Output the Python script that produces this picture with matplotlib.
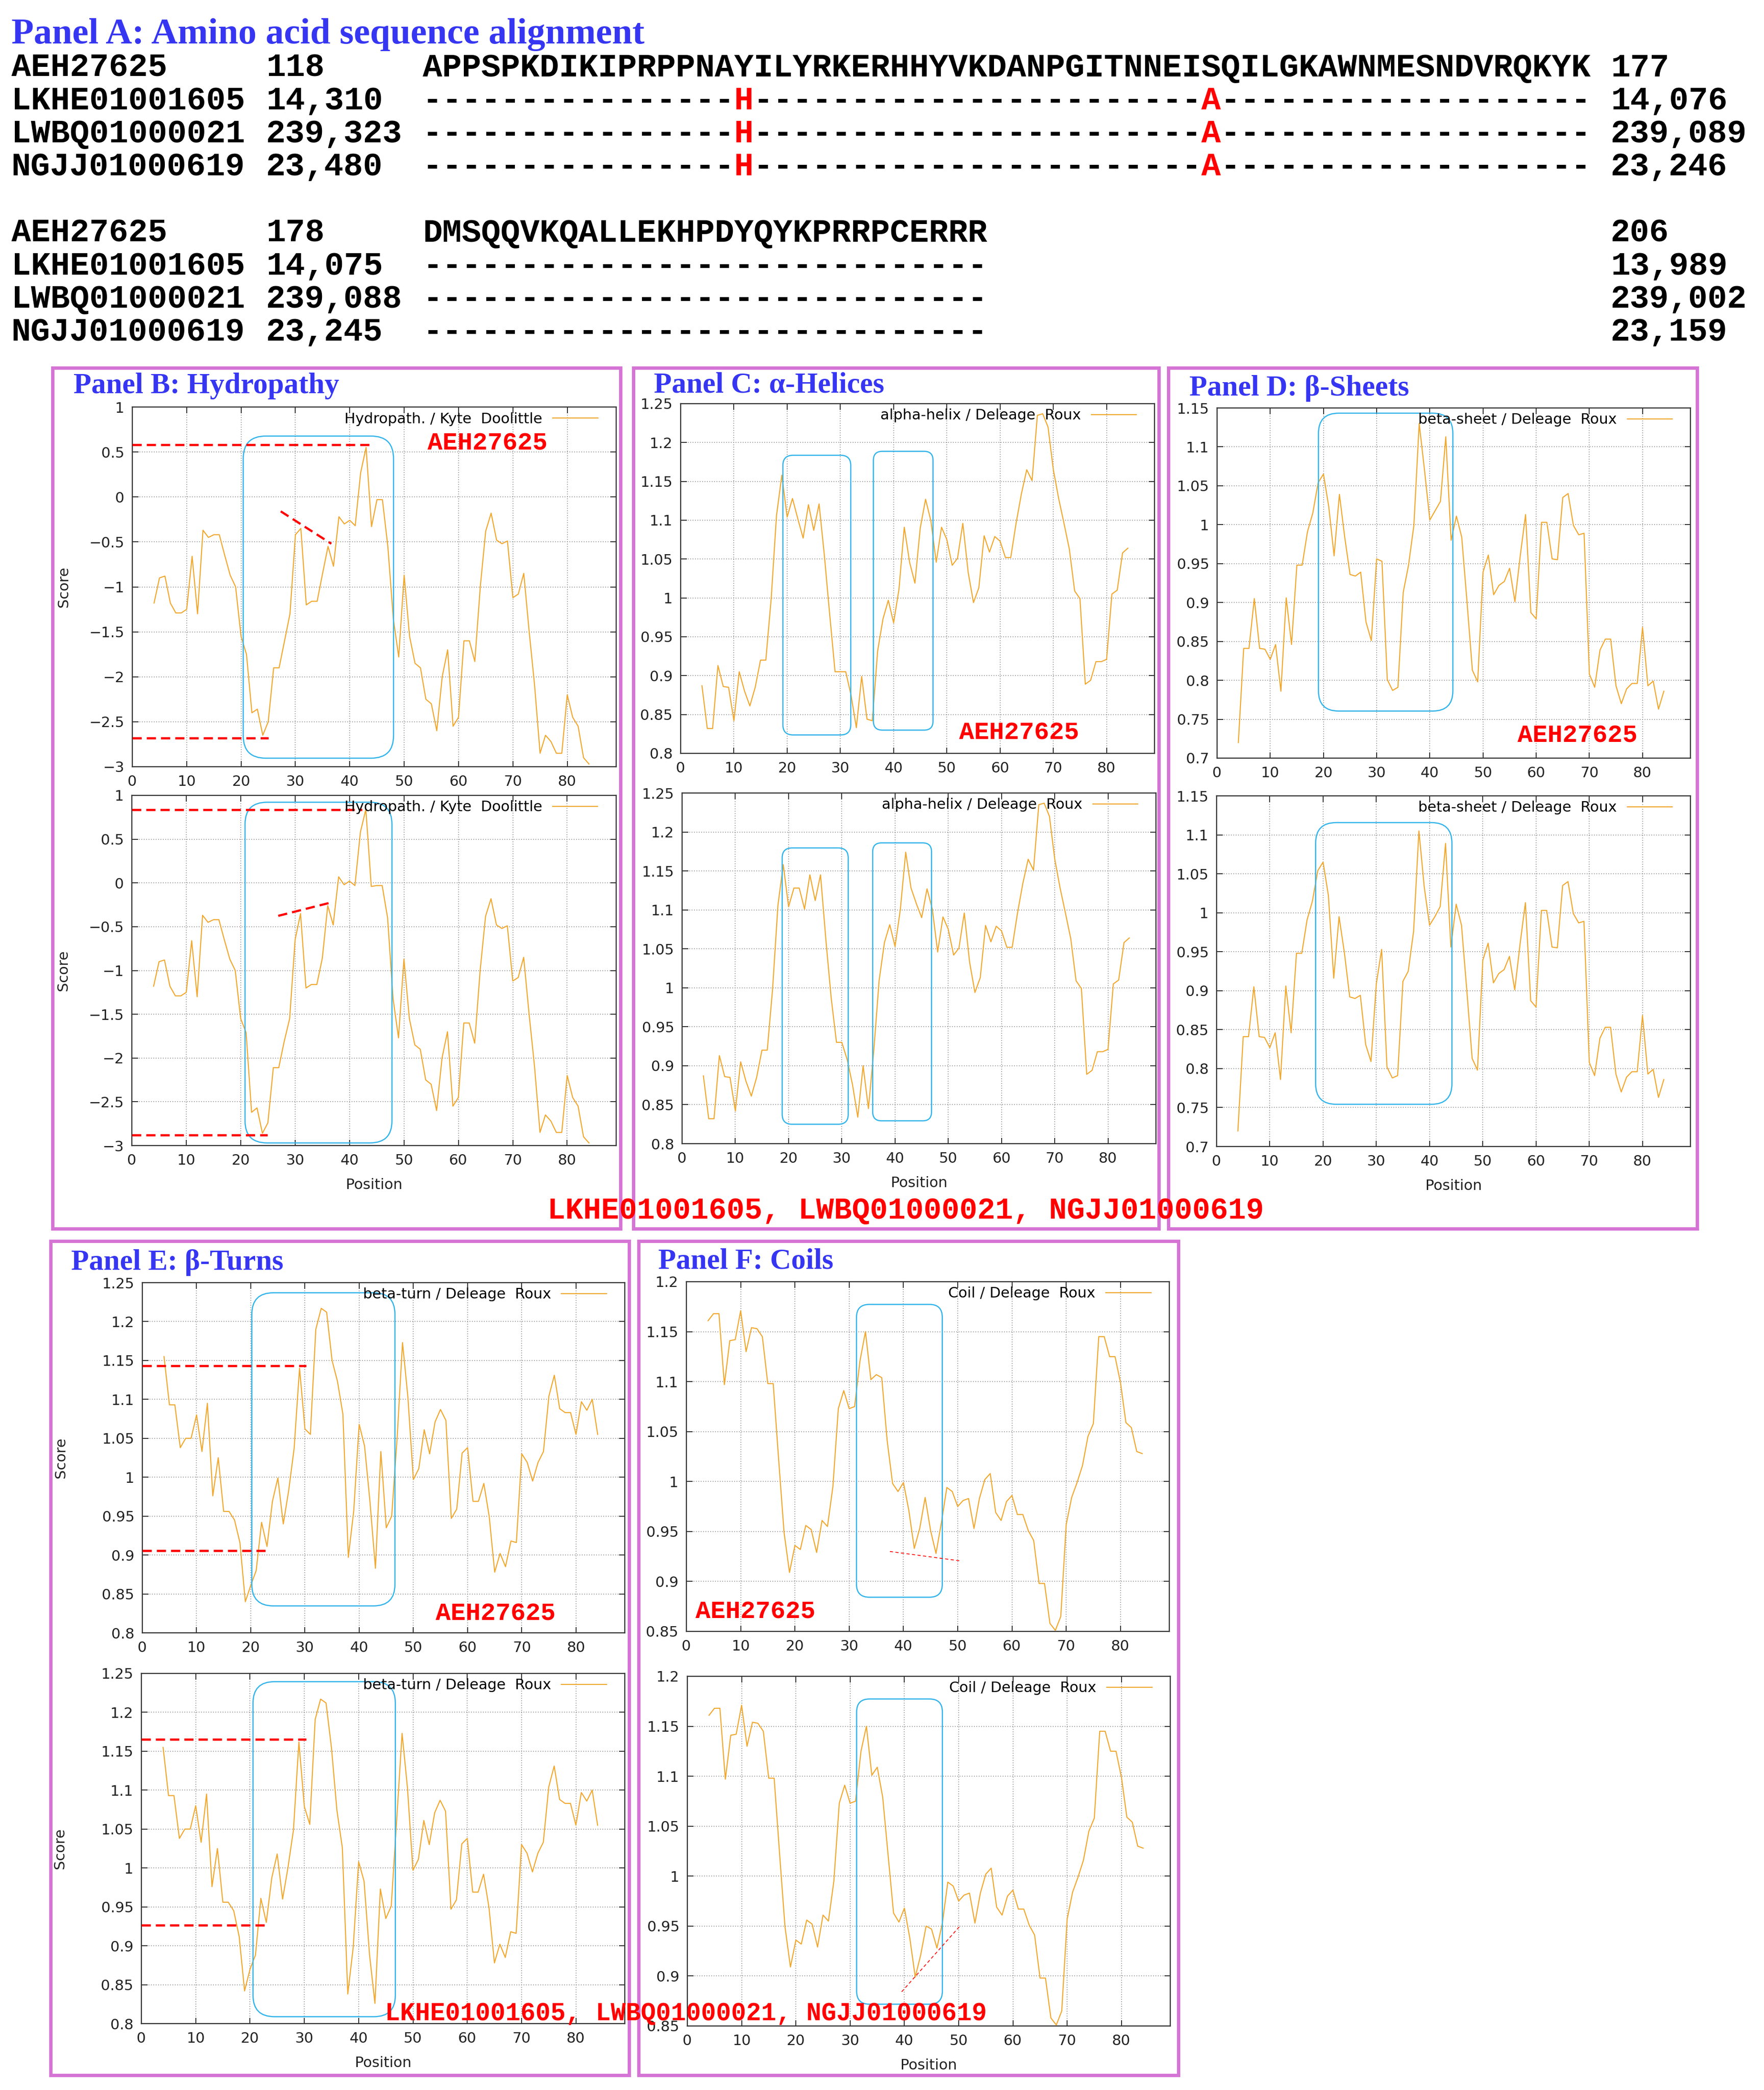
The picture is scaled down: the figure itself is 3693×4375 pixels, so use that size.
import matplotlib
matplotlib.use("Agg")
import matplotlib.pyplot as plt
from matplotlib.patches import FancyBboxPatch, Rectangle
from matplotlib.ticker import FuncFormatter

# --- размер картинки в пикселях (dpi = 100) ---
W, H = 3693, 4375

# ---------------- данные: выравнивание (Panel A) ----------------
seq_names = ["AEH27625", "LKHE01001605", "LWBQ01000021", "NGJJ01000619"]
block1_start = ["118", "14,310", "239,323", "23,480"]
block1_end = ["177", "14,076", "239,089", "23,246"]
block2_start = ["178", "14,075", "239,088", "23,245"]
block2_end = ["206", "13,989", "239,002", "23,159"]
block1_seq = "APPSPKDIKIPRPPNAYILYRKERHHYVKDANPGITNNEISQILGKAWNMESNDVRQKYK"
block2_seq = "DMSQQVKQALLEKHPDYQYKPRRPCERRR"
block1_subst = {16: "H", 40: "A"}
block2_subst = {}

# ---------------- данные: профили (позиции 4..84) ----------------
positions = list(range(4, 85))

hydro_ref = [-1.18, -0.90, -0.88, -1.18, -1.29, -1.29, -1.25, -0.66, -1.30, -0.37,
             -0.45, -0.42, -0.42, -0.65, -0.87, -1.00, -1.55, -1.75, -2.40, -2.36,
             -2.65, -2.50, -1.90, -1.90, -1.60, -1.30, -0.42, -0.35, -1.20, -1.16,
             -1.16, -0.85, -0.55, -0.77, -0.22, -0.30, -0.26, -0.32, 0.27, 0.55,
             -0.33, -0.03, -0.03, -0.55, -1.35, -1.78, -0.87, -1.55, -1.85, -1.90,
             -2.25, -2.30, -2.60, -2.00, -1.70, -2.55, -2.45, -1.60, -1.60, -1.83,
             -1.00, -0.38, -0.18, -0.48, -0.52, -0.49, -1.12, -1.08, -0.85, -1.50,
             -2.10, -2.85, -2.65, -2.72, -2.85, -2.85, -2.20, -2.45, -2.55, -2.90,
             -2.97]
hydro_var = [-1.18, -0.90, -0.88, -1.18, -1.29, -1.29, -1.25, -0.66, -1.30, -0.37,
             -0.45, -0.42, -0.42, -0.65, -0.87, -1.00, -1.55, -1.71, -2.62, -2.57,
             -2.86, -2.74, -2.11, -2.11, -1.81, -1.55, -0.65, -0.35, -1.20, -1.16,
             -1.16, -0.86, -0.26, -0.48, 0.07, -0.02, 0.02, -0.03, 0.58, 0.84,
             -0.04, -0.03, -0.03, -0.40, -1.32, -1.77, -0.87, -1.55, -1.85, -1.90,
             -2.25, -2.30, -2.60, -2.00, -1.70, -2.55, -2.45, -1.60, -1.60, -1.83,
             -1.00, -0.38, -0.18, -0.48, -0.52, -0.49, -1.12, -1.08, -0.85, -1.50,
             -2.10, -2.85, -2.65, -2.72, -2.85, -2.85, -2.20, -2.45, -2.55, -2.90,
             -2.97]

alpha_ref = [0.887, 0.832, 0.832, 0.913, 0.886, 0.885, 0.842, 0.905, 0.880, 0.861,
             0.885, 0.920, 0.920, 0.999, 1.106, 1.158, 1.104, 1.128, 1.102, 1.077,
             1.120, 1.087, 1.121, 1.054, 0.978, 0.905, 0.905, 0.905, 0.875, 0.833,
             0.899, 0.844, 0.842, 0.932, 0.973, 0.997, 0.968, 1.011, 1.091, 1.046,
             1.019, 1.090, 1.127, 1.099, 1.046, 1.091, 1.075, 1.042, 1.051, 1.096,
             1.033, 0.994, 1.013, 1.080, 1.059, 1.079, 1.073, 1.052, 1.052, 1.096,
             1.134, 1.165, 1.151, 1.235, 1.237, 1.220, 1.165, 1.128, 1.096, 1.063,
             1.009, 0.999, 0.889, 0.894, 0.918, 0.918, 0.921, 1.005, 1.010, 1.058,
             1.064]
alpha_var = [0.887, 0.832, 0.832, 0.913, 0.886, 0.885, 0.842, 0.905, 0.880, 0.861,
             0.885, 0.920, 0.920, 0.999, 1.106, 1.158, 1.104, 1.128, 1.128, 1.101,
             1.145, 1.112, 1.145, 1.062, 0.987, 0.930, 0.930, 0.908, 0.876, 0.834,
             0.900, 0.845, 0.919, 1.009, 1.058, 1.081, 1.053, 1.101, 1.174, 1.128,
             1.108, 1.090, 1.127, 1.101, 1.046, 1.091, 1.075, 1.042, 1.051, 1.096,
             1.033, 0.994, 1.013, 1.080, 1.059, 1.079, 1.073, 1.052, 1.052, 1.096,
             1.134, 1.165, 1.151, 1.235, 1.237, 1.220, 1.165, 1.128, 1.096, 1.063,
             1.009, 0.999, 0.889, 0.894, 0.918, 0.918, 0.921, 1.005, 1.010, 1.058,
             1.064]

sheet_ref = [0.720, 0.841, 0.841, 0.905, 0.841, 0.840, 0.827, 0.846, 0.786, 0.906,
             0.846, 0.948, 0.948, 0.991, 1.015, 1.054, 1.065, 1.023, 0.960, 1.039,
             0.984, 0.936, 0.934, 0.939, 0.875, 0.851, 0.956, 0.953, 0.801, 0.787,
             0.791, 0.913, 0.948, 0.999, 1.130, 1.070, 1.006, 1.018, 1.030, 1.113,
             0.980, 1.011, 0.984, 0.900, 0.813, 0.798, 0.939, 0.961, 0.910, 0.922,
             0.927, 0.944, 0.901, 0.960, 1.013, 0.887, 0.879, 1.003, 1.003, 0.956,
             0.955, 1.035, 1.040, 0.999, 0.987, 0.989, 0.808, 0.791, 0.839, 0.853,
             0.853, 0.793, 0.770, 0.789, 0.796, 0.796, 0.868, 0.793, 0.799, 0.763,
             0.786]
sheet_var = [0.720, 0.841, 0.841, 0.905, 0.841, 0.840, 0.827, 0.846, 0.786, 0.906,
             0.846, 0.948, 0.948, 0.991, 1.015, 1.054, 1.065, 1.022, 0.916, 0.995,
             0.949, 0.892, 0.890, 0.894, 0.831, 0.809, 0.909, 0.953, 0.802, 0.788,
             0.791, 0.912, 0.925, 0.976, 1.105, 1.033, 0.984, 0.995, 1.008, 1.089,
             0.956, 1.011, 0.984, 0.900, 0.813, 0.798, 0.939, 0.961, 0.910, 0.922,
             0.927, 0.944, 0.901, 0.960, 1.013, 0.887, 0.879, 1.003, 1.003, 0.956,
             0.955, 1.035, 1.040, 0.999, 0.987, 0.989, 0.808, 0.791, 0.839, 0.853,
             0.853, 0.793, 0.770, 0.789, 0.796, 0.796, 0.868, 0.793, 0.799, 0.763,
             0.786]

turn_ref = [1.155, 1.093, 1.093, 1.038, 1.050, 1.050, 1.080, 1.033, 1.095, 0.976,
            1.025, 0.956, 0.956, 0.945, 0.916, 0.840, 0.861, 0.880, 0.942, 0.911,
            0.969, 0.999, 0.940, 0.983, 1.037, 1.140, 1.062, 1.055, 1.190, 1.217,
            1.212, 1.150, 1.123, 1.081, 0.897, 0.957, 1.068, 1.040, 0.968, 0.883,
            1.033, 0.935, 0.950, 1.050, 1.173, 1.102, 0.997, 1.011, 1.061, 1.030,
            1.071, 1.087, 1.073, 0.947, 0.959, 1.031, 1.038, 0.969, 0.969, 0.992,
            0.949, 0.878, 0.902, 0.885, 0.918, 0.916, 1.030, 1.019, 0.995, 1.019,
            1.033, 1.104, 1.131, 1.088, 1.083, 1.083, 1.055, 1.097, 1.086, 1.100,
            1.055]
turn_var = [1.155, 1.093, 1.093, 1.038, 1.050, 1.050, 1.080, 1.033, 1.095, 0.976,
            1.025, 0.956, 0.956, 0.945, 0.912, 0.842, 0.870, 0.888, 0.961, 0.930,
            0.987, 1.018, 0.960, 1.001, 1.049, 1.162, 1.079, 1.056, 1.191, 1.217,
            1.212, 1.154, 1.074, 1.026, 0.838, 0.898, 1.008, 0.983, 0.889, 0.826,
            0.973, 0.935, 0.951, 1.061, 1.173, 1.102, 0.997, 1.011, 1.061, 1.030,
            1.071, 1.087, 1.073, 0.947, 0.959, 1.031, 1.038, 0.969, 0.969, 0.992,
            0.949, 0.878, 0.902, 0.885, 0.918, 0.916, 1.030, 1.019, 0.995, 1.019,
            1.033, 1.104, 1.131, 1.088, 1.083, 1.083, 1.055, 1.097, 1.086, 1.100,
            1.055]

coil_ref = [1.161, 1.168, 1.168, 1.097, 1.141, 1.142, 1.171, 1.130, 1.154, 1.153,
            1.145, 1.098, 1.098, 1.022, 0.949, 0.909, 0.936, 0.932, 0.956, 0.952,
            0.929, 0.961, 0.955, 0.995, 1.073, 1.091, 1.073, 1.075, 1.121, 1.150,
            1.102, 1.107, 1.104, 1.041, 0.998, 0.990, 0.999, 0.971, 0.933, 0.953,
            0.984, 0.951, 0.928, 0.959, 0.994, 0.990, 0.975, 0.981, 0.983, 0.953,
            0.983, 1.002, 1.008, 0.969, 0.961, 0.980, 0.986, 0.967, 0.967, 0.951,
            0.941, 0.898, 0.898, 0.858, 0.851, 0.865, 0.957, 0.984, 0.999, 1.016,
            1.045, 1.058, 1.145, 1.145, 1.125, 1.125, 1.099, 1.059, 1.054, 1.030,
            1.028]
coil_var = [1.161, 1.168, 1.168, 1.097, 1.141, 1.142, 1.171, 1.130, 1.154, 1.153,
            1.145, 1.098, 1.098, 1.022, 0.949, 0.909, 0.936, 0.932, 0.956, 0.952,
            0.929, 0.961, 0.955, 0.995, 1.073, 1.091, 1.073, 1.075, 1.125, 1.150,
            1.101, 1.109, 1.079, 1.021, 0.963, 0.954, 0.968, 0.938, 0.899, 0.921,
            0.950, 0.947, 0.928, 0.953, 0.994, 0.990, 0.975, 0.981, 0.983, 0.953,
            0.983, 1.002, 1.008, 0.969, 0.961, 0.980, 0.986, 0.967, 0.967, 0.951,
            0.941, 0.898, 0.898, 0.858, 0.851, 0.865, 0.957, 0.984, 0.999, 1.016,
            1.045, 1.058, 1.145, 1.145, 1.125, 1.125, 1.099, 1.059, 1.054, 1.030,
            1.028]

# выделенные участки (x0, x1, y0, y1) в координатах данных
hydro_ref_boxes = [(20.4, 48.05, -2.905, 0.677)]
hydro_var_boxes = [(20.8, 47.8, -2.97, 0.922)]
alpha_ref_boxes = [(19.2, 31.95, 0.8237, 1.1836), (36.2, 47.4, 0.8299, 1.1887)]
alpha_var_boxes = [(18.8, 31.2, 0.8249, 1.1795), (35.8, 46.85, 0.8293, 1.186)]
sheet_ref_boxes = [(19.06, 44.33, 0.7605, 1.1433)]
sheet_var_boxes = [(18.6, 44.2, 0.7542, 1.1157)]
turn_ref_boxes = [(20.2, 46.6, 0.8346, 1.237)]
turn_var_boxes = [(20.55, 46.76, 0.8089, 1.2394)]
coil_ref_boxes = [(31.35, 47.16, 0.8842, 1.1773)]
coil_var_boxes = [(31.2, 47.0, 0.8718, 1.1773)]

# красные пунктирные отметки (x0, x1, y0, y1)
hydro_ref_marks = [(0, 43.7, 0.58, 0.58), (0, 25.0, -2.68, -2.68), (27.3, 36.6, -0.16, -0.52)]
hydro_var_marks = [(0, 42.3, 0.834, 0.834), (0, 24.9, -2.88, -2.88), (26.9, 36.7, -0.376, -0.222)]
turn_ref_marks = [(0, 30.2, 1.1433, 1.1433), (0, 23.3, 0.9056, 0.9056)]
turn_var_marks = [(0, 30.3, 1.1652, 1.1652), (0, 23.3, 0.9266, 0.9266)]
coil_ref_marks = [(37.5, 50.45, 0.930, 0.9206)]
coil_var_marks = [(39.5, 50.3, 0.8842, 0.9504)]

# --- стиль ---
ORANGE = "#f0a830"
BOX_BLUE = "#33b4ea"
TITLE_BLUE = "#3636f2"
FRAME = "#d574d5"
MONO = "Liberation Mono"
SERIF = "Liberation Serif"


def fig_rect(l, t, r, b):
    return [l / W, 1 - b / H, (r - l) / W, (b - t) / H]


def fx(x):
    return x / W


def fy(y):
    return 1 - y / H


def tick_fmt(v, pos):
    return f"{round(v, 3):g}".replace("-", "\u2212")


def draw_profile(ax, values, ylim, yticks, label, boxes, marks=(), thin_marks=(),
                 ylabel=False, xlabel=False, ylabel_x=-0.127):
    ax.plot(positions, values, color=ORANGE, lw=1.6, label=label, zorder=3)
    ax.set_xlim(0, 89)
    ax.set_ylim(*ylim)
    ax.set_xticks(range(0, 90, 10))
    ax.set_yticks(yticks)
    ax.yaxis.set_major_formatter(FuncFormatter(tick_fmt))
    ax.grid(True, color="#8c8c8c", linestyle=(0, (1, 2)), lw=1.2)
    ax.tick_params(direction="in", top=True, right=True, length=9, width=1.3,
                   labelsize=22, pad=12, colors="#222222")
    for s in ax.spines.values():
        s.set_linewidth(1.7)
        s.set_color("#333333")
    ax.legend(loc="center right", bbox_to_anchor=(0.962, 0.966), frameon=False,
              markerfirst=False, fontsize=22, handlelength=3.1, handletextpad=0.7,
              borderpad=0, borderaxespad=0)

    # скруглённые рамки — пересчёт под пиксели осей
    bb = ax.get_position()
    xu = 89 / (bb.width * W)
    yu = (ylim[1] - ylim[0]) / (bb.height * H)
    for x0, x1, y0, y1 in boxes:
        rad = 0.15 * min((x1 - x0) / xu, (y1 - y0) / yu)
        ax.add_patch(FancyBboxPatch((x0, y0), x1 - x0, y1 - y0,
                                    boxstyle=f"round,pad=0,rounding_size={rad * xu}",
                                    mutation_aspect=yu / xu, fill=False,
                                    ec=BOX_BLUE, lw=1.8, zorder=4))
    for x0, x1, y0, y1 in marks:
        ax.plot([x0, x1], [y0, y1], color="red", lw=3.3, dashes=(4.2, 2.3),
                zorder=5, clip_on=False)
    for x0, x1, y0, y1 in thin_marks:
        ax.plot([x0, x1], [y0, y1], color="red", lw=1.2, dashes=(4, 3),
                zorder=5, clip_on=False)

    if ylabel:
        ax.set_ylabel("Score", fontsize=22, color="#222222")
        ax.yaxis.set_label_coords(ylabel_x, 0.5)
    if xlabel:
        ax.set_xlabel("Position", fontsize=22, color="#222222")
        ax.xaxis.set_label_coords(0.5, -0.093)


def main():
    fig = plt.figure(figsize=(W / 100, H / 100), dpi=100)
    fig.patch.set_facecolor("white")

    # ---------- Panel A: выравнивание ----------
    fig.text(fx(24), fy(91), "Panel A: Amino acid sequence alignment", family=SERIF,
             weight="bold", fontsize=55, color=TITLE_BLUE, va="baseline")

    mono = dict(family=MONO, weight="bold", fontsize=49, va="baseline")
    blocks = [(block1_start, block1_seq, block1_end, block1_subst, [160, 229, 298, 367]),
              (block2_start, block2_seq, block2_end, block2_subst, [506, 575, 644, 713])]
    for starts, seq, ends, subst, rows in blocks:
        for i, name in enumerate(seq_names):
            y = fy(rows[i])
            fig.text(fx(24), y, name, color="black", **mono)
            fig.text(fx(557), y, starts[i], color="black", **mono)
            if i == 0:
                fig.text(fx(885), y, seq, color="black", **mono)
            else:
                dash = "".join(" " if k in subst else "-" for k in range(len(seq)))
                red = "".join(subst.get(k, " ") for k in range(len(seq)))
                fig.text(fx(885), y, dash, color="black", **mono)
                fig.text(fx(885), y, red, color="red", **mono)
            fig.text(fx(3372), y, ends[i], color="black", **mono)

    # ---------- рамки панелей ----------
    frames = [(110, 770, 1299, 2572), (1326, 770, 2426, 2572), (2446, 770, 3553, 2572),
              (106, 2598, 1317, 4344), (1337, 2598, 2467, 4344)]
    for l, t, r, b in frames:
        fig.patches.append(Rectangle((fx(l), fy(b)), (r - l) / W, (b - t) / H,
                                     transform=fig.transFigure, fill=False,
                                     ec=FRAME, lw=5, zorder=1))

    # ---------- заголовки панелей ----------
    ttl = dict(family=SERIF, weight="bold", fontsize=44, color=TITLE_BLUE, va="baseline")
    fig.text(fx(154), fy(823), "Panel B: Hydropathy", **ttl)
    fig.text(fx(1369), fy(822), "Panel C: \u03b1-Helices", **ttl)
    fig.text(fx(2490), fy(828), "Panel D: \u03b2-Sheets", **ttl)
    fig.text(fx(149), fy(2658), "Panel E: \u03b2-Turns", **ttl)
    fig.text(fx(1378), fy(2655), "Panel F: Coils", **ttl)

    hyd_ticks = [-3, -2.5, -2, -1.5, -1, -0.5, 0, 0.5, 1]
    hel_ticks = [0.8, 0.85, 0.9, 0.95, 1.0, 1.05, 1.1, 1.15, 1.2, 1.25]
    sh_ticks = [0.7, 0.75, 0.8, 0.85, 0.9, 0.95, 1.0, 1.05, 1.1, 1.15]
    coil_ticks = [0.85, 0.9, 0.95, 1.0, 1.05, 1.1, 1.15, 1.2]

    # Panel B
    ax = fig.add_axes(fig_rect(277, 852, 1290, 1605))
    draw_profile(ax, hydro_ref, (-3, 1), hyd_ticks, "Hydropath. / Kyte  Doolittle",
                 hydro_ref_boxes, marks=hydro_ref_marks, ylabel=True)
    ax = fig.add_axes(fig_rect(276, 1665, 1290, 2398))
    draw_profile(ax, hydro_var, (-3, 1), hyd_ticks, "Hydropath. / Kyte  Doolittle",
                 hydro_var_boxes, marks=hydro_var_marks, ylabel=True, xlabel=True)

    # Panel C
    ax = fig.add_axes(fig_rect(1425, 845, 2417, 1577))
    draw_profile(ax, alpha_ref, (0.8, 1.25), hel_ticks, "alpha-helix / Deleage  Roux",
                 alpha_ref_boxes)
    ax = fig.add_axes(fig_rect(1428, 1660, 2420, 2394))
    draw_profile(ax, alpha_var, (0.8, 1.25), hel_ticks, "alpha-helix / Deleage  Roux",
                 alpha_var_boxes, xlabel=True)

    # Panel D
    ax = fig.add_axes(fig_rect(2548, 854, 3539, 1587))
    draw_profile(ax, sheet_ref, (0.7, 1.15), sh_ticks, "beta-sheet / Deleage  Roux",
                 sheet_ref_boxes)
    ax = fig.add_axes(fig_rect(2547, 1666, 3539, 2400))
    draw_profile(ax, sheet_var, (0.7, 1.15), sh_ticks, "beta-sheet / Deleage  Roux",
                 sheet_var_boxes, xlabel=True)

    # Panel E
    ax = fig.add_axes(fig_rect(298, 2685, 1308, 3418))
    draw_profile(ax, turn_ref, (0.8, 1.25), hel_ticks, "beta-turn / Deleage  Roux",
                 turn_ref_boxes, marks=turn_ref_marks, ylabel=True, ylabel_x=-0.154)
    ax = fig.add_axes(fig_rect(296, 3503, 1308, 4236))
    draw_profile(ax, turn_var, (0.8, 1.25), hel_ticks, "beta-turn / Deleage  Roux",
                 turn_var_boxes, marks=turn_var_marks, ylabel=True, xlabel=True,
                 ylabel_x=-0.154)

    # Panel F
    ax = fig.add_axes(fig_rect(1437, 2683, 2448, 3415))
    draw_profile(ax, coil_ref, (0.85, 1.2), coil_ticks, "Coil / Deleage  Roux",
                 coil_ref_boxes, thin_marks=coil_ref_marks)
    ax = fig.add_axes(fig_rect(1439, 3509, 2450, 4241))
    draw_profile(ax, coil_var, (0.85, 1.2), coil_ticks, "Coil / Deleage  Roux",
                 coil_var_boxes, thin_marks=coil_var_marks, xlabel=True)

    # ---------- красные подписи ----------
    lab = dict(family=MONO, weight="bold", color="red", va="baseline", zorder=10)
    fig.text(fx(895), fy(941), "AEH27625", fontsize=37.7, **lab)
    fig.text(fx(2008), fy(1548), "AEH27625", fontsize=37.7, **lab)
    fig.text(fx(3177), fy(1554), "AEH27625", fontsize=37.7, **lab)
    fig.text(fx(912), fy(3392), "AEH27625", fontsize=37.7, **lab)
    fig.text(fx(1456), fy(3387), "AEH27625", fontsize=37.7, **lab)
    fig.text(fx(1146), fy(2551), "LKHE01001605, LWBQ01000021, NGJJ01000619",
             fontsize=45, **lab)
    fig.text(fx(806), fy(4229), "LKHE01001605, LWBQ01000021, NGJJ01000619",
             fontsize=37.8, **lab)

    fig.savefig("out.png", dpi=100)
    plt.close(fig)


if __name__ == "__main__":
    main()
